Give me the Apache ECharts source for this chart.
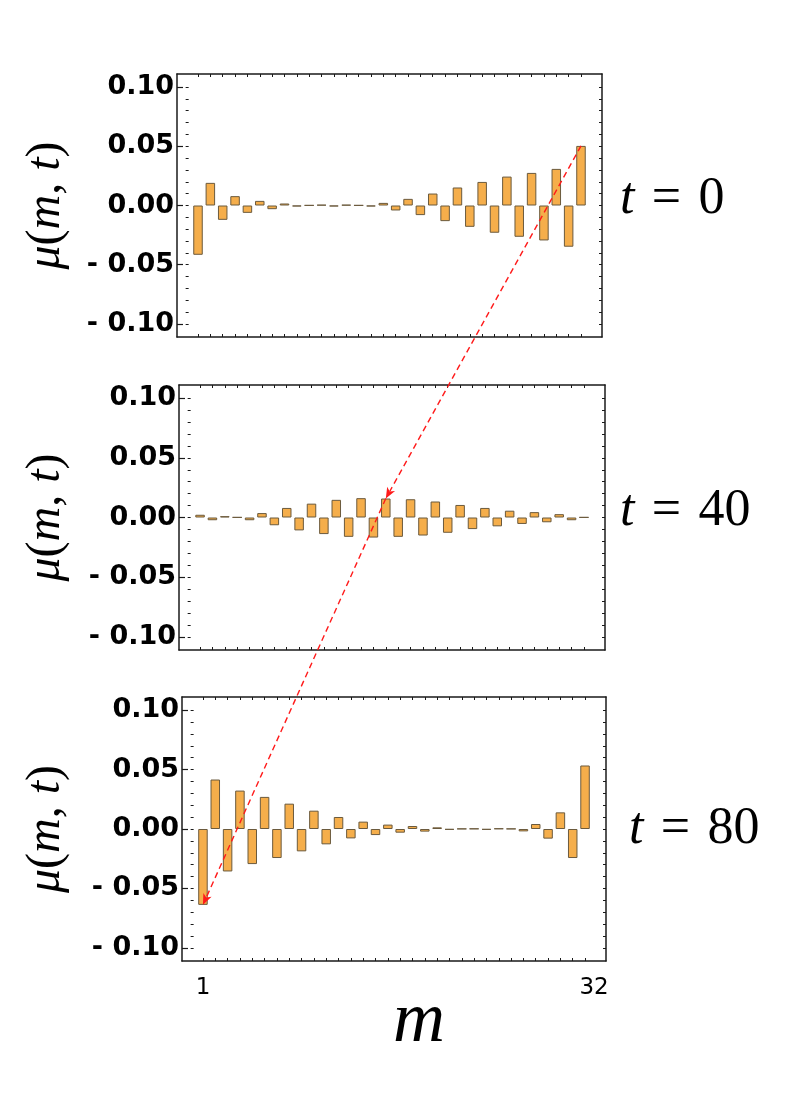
<!DOCTYPE html>
<html style="height: 100%">
<head>
  <meta charset="utf-8">
</head>
<body style="height: 100%; margin: 0; background: #fff">
<div id="container" style="width: 789px; height: 1098px"></div>
<script type="text/javascript" src="https://cdn.jsdelivr.net/npm/echarts@6/dist/echarts.min.js"></script>
<script type="text/javascript">
// site index m
var mSites = [1, 2, 3, 4, 5, 6, 7, 8, 9, 10, 11, 12, 13, 14, 15, 16,
              17, 18, 19, 20, 21, 22, 23, 24, 25, 26, 27, 28, 29, 30, 31, 32];
// mu(m, t)
var muT0 = [-0.0416, 0.0191, -0.0121, 0.0079, -0.0062, 0.0039, -0.0031, 0.0017,
            -0.0008, 0.0002, 0.0006, -0.0008, 0.0006, 0.0002, -0.0008, 0.0022,
            -0.0042, 0.0056, -0.0081, 0.0101, -0.0132, 0.0152, -0.0180, 0.0199,
            -0.0230, 0.0244, -0.0264, 0.0275, -0.0295, 0.0309, -0.0348, 0.0503];
var muT40 = [0.0023, -0.0023, 0.0011, 0.0002, -0.0023, 0.0037, -0.0065, 0.0080,
             -0.0108, 0.0116, -0.0139, 0.0148, -0.0162, 0.0162, -0.0168, 0.0159,
             -0.0162, 0.0153, -0.0151, 0.0134, -0.0128, 0.0105, -0.0097, 0.0080,
             -0.0074, 0.0057, -0.0054, 0.0045, -0.0040, 0.0028, -0.0023, 0.0002];
var muT80 = [-0.0638, 0.0416, -0.0357, 0.0323, -0.0295, 0.0270, -0.0244, 0.0213,
             -0.0188, 0.0154, -0.0129, 0.0101, -0.0079, 0.0062, -0.0051, 0.0037,
             -0.0031, 0.0025, -0.0022, 0.0014, -0.0006, 0.0002, 0.0003, -0.0006,
             0.0004, 0.0002, -0.0020, 0.0042, -0.0081, 0.0140, -0.0244, 0.0534];
var panelTimes = ['0', '40', '80'];

// ticks
var yMajor = [-0.1, -0.05, 0, 0.05, 0.1];
var yMajorLabels = ['- 0.10', '- 0.05', '0.00', '0.05', '0.10'];
var yMinor = [-0.1, -0.09, -0.08, -0.07, -0.06, -0.05, -0.04, -0.03, -0.02, -0.01, 0,
              0.01, 0.02, 0.03, 0.04, 0.05, 0.06, 0.07, 0.08, 0.09, 0.1];
var xLabelTicks = [1, 32];

var dom = document.getElementById("container");
var myChart = echarts.init(dom, null, {renderer: 'canvas'});

var frameColor = '#1a1a1a';
var grids = [
  {left: 177, top: 74, width: 425, height: 263},
  {left: 179, top: 385, width: 426, height: 265},
  {left: 182, top: 697, width: 424, height: 264}
];
var seriesData = [muT0, muT40, muT80];

function toPairs(vals) {
  return vals.map(function (v, i) { return [mSites[i], v]; });
}

var xAxes = [], yAxes = [], series = [];
grids.forEach(function (g, k) {
  var last = (k === 2);
  // bottom
  xAxes.push({
    type: 'value', gridIndex: k, position: 'bottom', min: -0.7, max: 33.7,
    splitLine: {show: false},
    axisLine: {show: true, onZero: false, lineStyle: {color: frameColor, width: 1.5}},
    axisTick: {show: true, inside: true, length: 3, customValues: mSites,
               lineStyle: {color: frameColor, width: 1}},
    axisLabel: {show: last, customValues: xLabelTicks, margin: 16,
                fontFamily: 'DejaVu Sans', fontSize: 23, color: '#000',
                formatter: function (v) {
                  return v === 32 ? '{r|32}' : '{n|' + v + '}';
                },
                rich: {r: {fontFamily: 'DejaVu Sans', fontSize: 23, padding: [0, 0, 0, 18]},
                       n: {fontFamily: 'DejaVu Sans', fontSize: 23}}}
  });
  // top
  xAxes.push({
    type: 'value', gridIndex: k, position: 'top', min: -0.7, max: 33.7,
    splitLine: {show: false},
    axisLine: {show: true, onZero: false, lineStyle: {color: frameColor, width: 1.5}},
    axisTick: {show: true, inside: true, length: 3, customValues: mSites,
               lineStyle: {color: frameColor, width: 1}},
    axisLabel: {show: false}
  });
  // left, major ticks and labels
  yAxes.push({
    type: 'value', gridIndex: k, position: 'left', min: -0.111, max: 0.111,
    splitLine: {show: false},
    axisLine: {show: true, onZero: false, lineStyle: {color: frameColor, width: 1.5}},
    axisTick: {show: true, inside: true, length: 6, customValues: yMajor,
               lineStyle: {color: frameColor, width: 1.2}},
    axisLabel: {show: true, customValues: yMajor, margin: 3,
                fontFamily: 'DejaVu Sans', fontWeight: 'bold', fontSize: 27, color: '#000',
                formatter: function (v) {
                  for (var i = 0; i < yMajor.length; i++) {
                    if (Math.abs(yMajor[i] - v) < 1e-6) return yMajorLabels[i];
                  }
                  return '';
                }}
  });
  // left, minor ticks
  yAxes.push({
    type: 'value', gridIndex: k, position: 'left', min: -0.111, max: 0.111,
    splitLine: {show: false},
    axisLine: {show: false},
    axisTick: {show: true, inside: true, length: 3, customValues: yMinor,
               lineStyle: {color: frameColor, width: 1}},
    axisLabel: {show: false}
  });
  // right
  yAxes.push({
    type: 'value', gridIndex: k, position: 'right', min: -0.111, max: 0.111,
    splitLine: {show: false},
    axisLine: {show: true, onZero: false, lineStyle: {color: frameColor, width: 1.5}},
    axisTick: {show: true, inside: true, length: 3, customValues: yMinor,
               lineStyle: {color: frameColor, width: 1}},
    axisLabel: {show: false}
  });

  series.push({
    name: 't=' + panelTimes[k],
    type: 'bar',
    xAxisIndex: 2 * k,
    yAxisIndex: 3 * k,
    data: toPairs(seriesData[k]),
    barWidth: 9.5,
    itemStyle: {color: '#F5AE4B', borderColor: '#6b5a3d', borderWidth: 1},
    emphasis: {disabled: true}
  });
});

var option = {
  animation: false,
  backgroundColor: '#fff',
  grid: grids,
  xAxis: xAxes,
  yAxis: yAxes,
  series: series
};
myChart.setOption(option, true);

// labels and arrows
var serif = 'Liberation Serif';
var texts = [];
var labelCenters = [205.5, 517.5, 829];
var tPos = [[620, 199], [620, 511], [629, 829]];
labelCenters.forEach(function (cy, k) {
  texts.push({
    type: 'text', x: 46, y: cy, rotation: Math.PI / 2, z: 10,
    style: {
      text: '{i|\u03bc}{r|(}{i|m}{r|, }{i|t}{r|)}',
      align: 'center', verticalAlign: 'middle',
      rich: {
        i: {fontFamily: serif, fontStyle: 'italic', fontSize: 48, fill: '#000'},
        r: {fontFamily: serif, fontSize: 48, fill: '#000'}
      }
    }
  });
  texts.push({
    type: 'text', x: tPos[k][0], y: tPos[k][1], z: 10,
    style: {
      text: '{i|t}{r|\u2004=\u2004' + panelTimes[k] + '}',
      align: 'left', verticalAlign: 'middle',
      rich: {
        i: {fontFamily: serif, fontStyle: 'italic', fontSize: 52, fill: '#000'},
        r: {fontFamily: serif, fontSize: 52, fill: '#000'}
      }
    }
  });
});
texts.push({
  type: 'text', x: 419, y: 1058, z: 10,
  style: {text: 'm', fontFamily: serif, fontStyle: 'italic', fontSize: 72,
          fill: '#000', align: 'center', verticalAlign: 'bottom'}
});

function arrow(p0, p1) {
  var dx = p1[0] - p0[0], dy = p1[1] - p0[1];
  var len = Math.sqrt(dx * dx + dy * dy);
  var ux = dx / len, uy = dy / len;
  var nx = -uy, ny = ux;
  var hl = 11, hw = 4.5, notch = 3;
  var back = [p1[0] - ux * hl, p1[1] - uy * hl];
  var mid = [p1[0] - ux * (hl - notch), p1[1] - uy * (hl - notch)];
  return [
    {type: 'line', z: 20, shape: {x1: p0[0], y1: p0[1], x2: mid[0], y2: mid[1]},
     style: {stroke: '#ff1a1a', lineWidth: 1.4, lineDash: [6, 4]}},
    {type: 'polygon', z: 21,
     shape: {points: [p1, [back[0] + nx * hw, back[1] + ny * hw], mid,
                      [back[0] - nx * hw, back[1] - ny * hw]]},
     style: {fill: '#ff1a1a'}}
  ];
}

var pStart = myChart.convertToPixel({seriesIndex: 0}, [mSites[31], muT0[31]]);
var pMid = myChart.convertToPixel({seriesIndex: 1}, [mSites[15], muT40[15]]);
var pEnd = myChart.convertToPixel({seriesIndex: 2}, [mSites[0], muT80[0]]);

myChart.setOption({
  graphic: texts.concat(arrow(pStart, pMid)).concat(arrow(pMid, pEnd))
});
</script>
</body>
</html>
